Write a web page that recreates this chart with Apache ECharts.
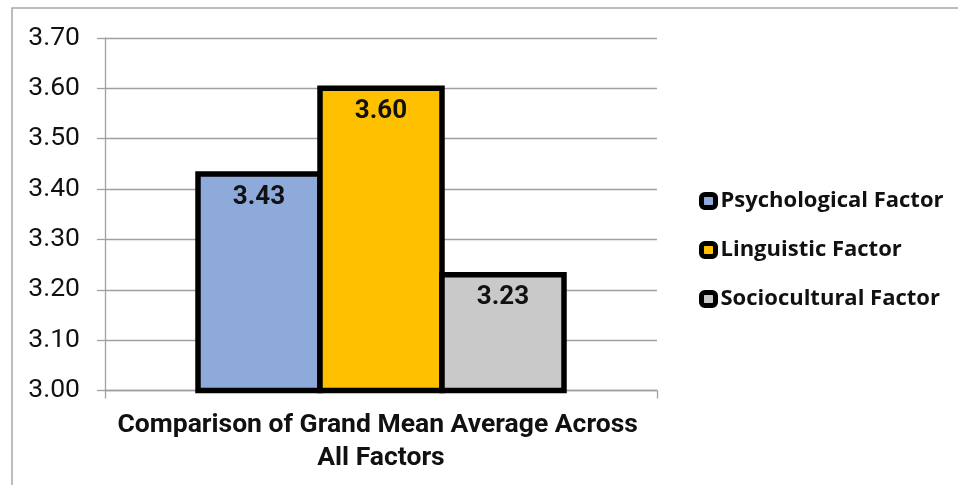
<!DOCTYPE html>
<html>
<head>
<meta charset="utf-8">
<script src="https://cdn.jsdelivr.net/npm/echarts@6/dist/echarts.min.js"></script>
<style>
  html, body { margin: 0; padding: 0; background: #fff; }
  #chart { width: 958px; height: 485px; }
</style>
</head>
<body>
<div id="chart"></div>
<script>
// Grand mean per factor group
const categories = ['Comparison of Grand Mean Average Across All Factors'];
const seriesNames = ['Psychological Factor', 'Linguistic Factor', 'Sociocultural Factor'];
const psychological = [3.43];
const linguistic = [3.60];
const sociocultural = [3.23];
const seriesColors = ['#8eaadb', '#ffc000', '#c9c9c9'];
const yTicks = { min: 3.0, max: 3.7, step: 0.1 };

const seriesValues = [psychological, linguistic, sociocultural];

// Bars are drawn as custom rects so the outline is centred on the value line
const BAR_W = 122;
const BORDER_W = 5.5;

function makeBarRenderer(seriesIdx, color) {
  return function (params, api) {
    const cat = api.value(0);
    const val = api.value(1);
    const topPt = api.coord([cat, val]);
    const basePt = api.coord([cat, yTicks.min]);
    const x = topPt[0] + (seriesIdx - 1) * BAR_W - BAR_W / 2;
    return {
      type: 'rect',
      shape: { x: x, y: topPt[1], width: BAR_W, height: basePt[1] - topPt[1] },
      style: { fill: color, stroke: '#000', lineWidth: BORDER_W },
      textContent: {
        style: {
          text: val.toFixed(2),
          fontFamily: 'Roboto',
          fontWeight: 'bold',
          fontSize: 26,
          fill: '#111'
        }
      },
      textConfig: { position: 'insideTop', distance: 13 }
    };
  };
}

const chart = echarts.init(document.getElementById('chart'), null, { renderer: 'canvas' });

const option = {
  animation: false,
  backgroundColor: '#ffffff',
  graphic: [{
    type: 'rect',
    shape: { x: 12, y: 8, width: 980, height: 520 },
    style: { fill: 'none', stroke: '#a6a6a6', lineWidth: 1.5 },
    silent: true,
    z: -1
  }],
  grid: { left: 105, right: 301, top: 38, bottom: 94.5, containLabel: false },
  legend: {
    orient: 'vertical',
    left: 699,
    top: 189,
    padding: 0,
    itemWidth: 14,
    itemHeight: 13,
    itemGap: 25,
    itemTextGap: 9,
    icon: 'roundRect',
    itemStyle: { borderColor: '#000', borderWidth: 5 },
    textStyle: {
      fontFamily: 'Open Sans',
      fontWeight: 'bold',
      fontSize: 22,
      lineHeight: 24,
      color: '#111'
    },
    data: seriesNames.map((n, i) => ({
      name: n,
      itemStyle: { color: seriesColors[i], borderColor: '#000', borderWidth: 5 }
    }))
  },
  xAxis: {
    type: 'category',
    data: categories,
    axisLine: { show: true, lineStyle: { color: '#a0a0a0', width: 1.3 } },
    axisTick: { show: true, alignWithLabel: false, length: 8, lineStyle: { color: '#a0a0a0', width: 1.3 } },
    axisLabel: {
      margin: 18,
      width: 545,
      overflow: 'break',
      fontFamily: 'Roboto',
      fontWeight: 'bold',
      fontSize: 26.5,
      lineHeight: 33,
      color: '#111',
      align: 'center'
    }
  },
  yAxis: {
    type: 'value',
    min: yTicks.min,
    max: yTicks.max,
    interval: yTicks.step,
    axisLine: { show: true, lineStyle: { color: '#a0a0a0', width: 1.3 } },
    axisTick: { show: true, length: 8, inside: false, lineStyle: { color: '#a0a0a0', width: 1.3 } },
    splitLine: { show: true, lineStyle: { color: '#a0a0a0', width: 1.3 } },
    axisLabel: {
      margin: 25,
      fontFamily: 'Roboto',
      fontSize: 26.5,
      color: '#111',
      formatter: v => v.toFixed(2)
    }
  },
  series: seriesNames.map((name, i) => ({
    name: name,
    type: 'custom',
    coordinateSystem: 'cartesian2d',
    itemStyle: { color: seriesColors[i], borderColor: '#000', borderWidth: 5 },
    encode: { x: 0, y: 1 },
    data: seriesValues[i].map((v, j) => [j, v]),
    renderItem: makeBarRenderer(i, seriesColors[i])
  }))
};

chart.setOption(option);
</script>
</body>
</html>
